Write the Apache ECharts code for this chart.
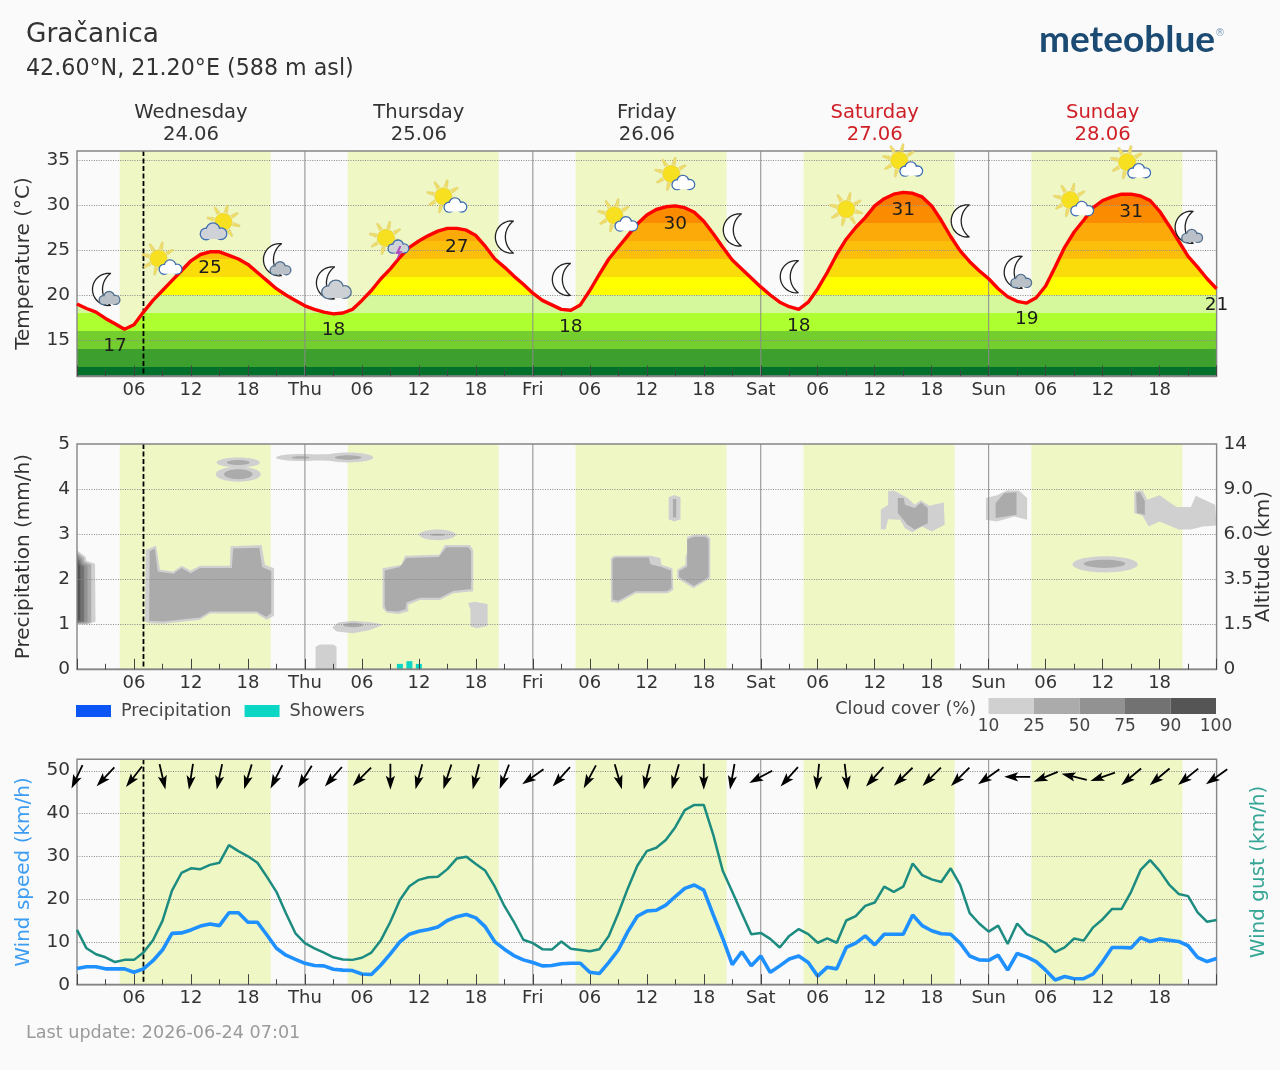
<!DOCTYPE html>
<html>
<head>
<meta charset="utf-8">
<title>Gračanica forecast</title>
<script src="https://cdn.jsdelivr.net/npm/echarts@6/dist/echarts.min.js"></script>
<style>html,body{margin:0;padding:0;background:#fafafa}#chart{width:1280px;height:1070px}</style>
</head>
<body>
<div id="chart"></div>
<script>
// Hourly forecast values, index = hours since Wednesday 00:00
const temperature = [
  19.0,18.5,18.1,17.4,16.8,16.2,16.7,18.1,19.4,20.5,21.6,22.7,23.8,24.5,24.8,24.8,24.4,24.0,23.4,22.5,21.6,20.7,20.0,19.4,
  18.8,18.4,18.1,17.9,18.0,18.4,19.4,20.5,21.8,22.9,24.2,25.3,26.0,26.6,27.1,27.4,27.4,27.2,26.6,25.4,24.0,23.1,22.1,21.2,
  20.2,19.4,18.9,18.4,18.3,18.9,20.5,22.3,24.0,25.3,26.6,27.9,28.9,29.5,29.8,29.9,29.7,29.2,28.2,26.8,25.3,23.9,22.9,21.9,
  20.9,20.0,19.2,18.7,18.4,19.2,20.7,22.5,24.5,26.2,27.5,28.6,29.9,30.7,31.2,31.4,31.3,30.9,29.9,28.3,26.5,24.9,23.7,22.7,
  21.8,20.7,19.8,19.3,19.1,19.7,21.0,23.1,25.3,27.0,28.3,29.7,30.5,30.9,31.2,31.2,31.0,30.5,29.3,27.7,26.0,24.3,23.1,21.8,20.7
];
const windSpeed = [
  3.8,4.2,4.2,3.7,3.7,3.7,2.9,3.7,5.6,8.1,12.0,12.1,12.8,13.7,14.2,13.8,16.8,16.8,14.6,14.6,11.6,8.5,6.9,5.9,
  5.0,4.5,4.4,3.6,3.4,3.3,2.5,2.4,4.6,7.2,10.0,11.8,12.5,12.9,13.5,15.0,15.9,16.4,15.6,13.5,10.0,8.3,6.8,5.8,
  5.2,4.4,4.5,4.9,5.0,5.0,2.9,2.6,5.2,8.1,12.4,16.0,17.2,17.4,18.6,20.6,22.5,23.3,22.1,16.3,10.8,4.7,7.7,4.4,
  6.7,2.9,4.4,6.0,6.7,5.2,2.0,4.1,3.7,8.7,9.7,11.4,9.3,11.8,11.8,11.8,16.3,13.8,12.6,11.9,11.8,9.7,6.7,5.8,
  5.7,6.9,3.4,7.3,6.5,5.4,3.4,1.1,1.9,1.4,1.4,2.5,5.4,8.7,8.7,8.6,11.0,10.1,10.7,10.4,10.1,9.1,6.4,5.4,6.1
];
const windGust = [
  12.8,8.5,7.1,6.4,5.3,5.8,5.8,7.5,10.4,14.9,22.0,26.1,27.2,27.0,28.0,28.5,32.6,31.2,30.0,28.5,25.2,21.7,16.7,12.0,
  9.7,8.5,7.5,6.4,5.9,5.8,6.3,7.5,10.4,14.7,19.8,23.0,24.5,25.1,25.2,27.0,29.5,29.9,28.2,26.6,22.9,18.4,14.7,10.5,
  9.7,8.3,8.2,10.1,8.4,8.1,7.8,8.3,11.4,16.7,22.5,27.8,31.2,32.0,33.8,36.8,40.8,42.0,42.0,35.0,26.6,21.7,16.7,11.8,
  12.1,10.7,8.7,11.4,13.0,11.8,9.8,10.8,9.8,15.0,16.0,18.4,19.2,22.9,21.7,22.9,28.3,25.6,24.6,24.0,27.2,23.3,16.7,14.3,
  12.4,13.8,9.5,14.3,11.8,10.8,9.7,7.6,8.7,10.8,10.3,13.4,15.3,17.7,17.7,21.7,26.8,29.1,26.6,23.4,21.2,20.7,16.9,14.7,15.1
];
// Wind origin in degrees, one reading every third hour
const windDirection = [
  25,43,38,347,9,12,17,27,32,41,45,0,15,18,14,21,55,42,28,344,13,16,0,10,62,42,6,353,
  42,46,45,45,55,90,68,104,71,50,50,51,55
];
const showerHours = [34, 35, 36];
const showerValues = [0.12, 0.18, 0.12];
const precipitationValues = [];

const sunrise = [4.5, 28.5, 52.5, 76.5, 100.5];
const sunset = [20.4, 44.4, 68.4, 92.4, 116.4];
const midnights = [24, 48, 72, 96];
const nowHour = 7;

const dayCentres = [12, 36, 60, 84, 108];
const dayNames = ['Wednesday', 'Thursday', 'Friday', 'Saturday', 'Sunday'];
const dayDates = ['24.06', '25.06', '26.06', '27.06', '28.06'];
const weekendDays = ['Saturday', 'Sunday'];

const xTickLabels = ['', '06', '12', '18', 'Thu', '06', '12', '18', 'Fri', '06', '12', '18', 'Sat', '06', '12', '18', 'Sun', '06', '12', '18', ''];
const tempTicks = [15, 20, 25, 30, 35];
const precipTicks = [1, 2, 3, 4];
const windTicks = [0, 10, 20, 30, 40, 50];
const altitudeLabels = ['0', '1.5', '3.5', '6.0', '9.0', '14'];

// Colour bands under the temperature curve: lower bound, upper bound, colour
const tempBands = [
  [11, 12, '#00702b'], [12, 14, '#3da02e'], [14, 16, '#74cf2e'], [16, 18, '#adff2f'], [18, 20, '#d5f89c'],
  [20, 22, '#ffff00'], [22, 24, '#f9dc0a'], [24, 26, '#fbbe0a'], [26, 28, '#fca90a'], [28, 30, '#fb8b00'], [30, 36, '#fa7d00']
];
// Labelled hours on the curve; the text is the rounded curve value
const tempLabelHours = [4, 14, 27, 40, 52, 63, 76, 87, 100, 111, 120];
// Weather pictogram for hours 3, 9, 15, ... 117
const pictograms = [
  'moonCloud', 'sunCloud', 'sunGreyCloud', 'moonCloud', 'moonBigCloud', 'sunStorm', 'sunCloud', 'moon', 'moon', 'sunCloud',
  'sunCloud', 'moon', 'moon', 'sun', 'sunCloud', 'moon', 'moonCloud', 'sunCloud', 'sunCloud', 'moonCloud'
];

const coverLabels = ['10', '25', '50', '75', '90', '100'];
const coverColors = ['#d0d0d0', '#ababab', '#929292', '#727272', '#555555'];

// Cloud regions in [hour, level] pairs; level 1..5 maps to altitude labels on the right axis
const cloudAreas = [
  [0, [[0,2.64],[0.9,2.5],[1,2.41],[1.9,2.34],[1.95,1.06],[1.2,1],[0,1]]],
  [1, [[0,2.6],[0.7,2.47],[0.8,2.38],[1.5,2.32],[1.5,1.05],[1,1.01],[0,1.01]]],
  [2, [[0,2.56],[0.5,2.44],[0.6,2.36],[1.1,2.3],[1.1,1.05],[0,1.02]]],
  [3, [[0,2.5],[0.35,2.4],[0.4,2.33],[0.75,2.28],[0.75,1.06],[0,1.04]]],
  [4, [[0,2.42],[0.35,2.28],[0.35,1.1],[0,1.08]]],
  [0, [[7.16,1.06],[7.23,2.65],[8.32,2.75],[8.74,2.21],[10.14,2.17],[11.02,2.3],[11.96,2.19],[12.95,2.3],[16.1,2.3],[16.18,2.73],[19.44,2.76],[19.79,2.32],[20.74,2.24],[20.74,1.19],[19.96,1.1],[18.91,1.24],[14,1.24],[12.95,1.1],[9.09,1.01],[7.68,1.02]]],
  [1, [[7.6,1.08],[7.65,2.62],[8.2,2.68],[8.5,2.17],[10.15,2.12],[11.02,2.25],[11.96,2.13],[12.95,2.25],[16.3,2.25],[16.45,2.68],[19.2,2.7],[19.5,2.27],[20.45,2.18],[20.45,1.25],[19.96,1.16],[18.91,1.28],[14,1.28],[12.95,1.15],[9.09,1.06],[7.9,1.07]]],
  [0, [[25.12,0],[25.12,0.5],[25.58,0.55],[26.98,0.55],[27.33,0.5],[27.33,0]]],
  [0, [[26.88,0.93],[27.5,1.04],[29.09,1.08],[31.19,1.04],[32.25,0.99],[30.84,0.87],[29.09,0.8],[27.33,0.84]]],
  [0, [[32.18,2.24],[34.18,2.32],[34.53,2.52],[38.14,2.54],[38.74,2.76],[41.37,2.76],[41.72,2.65],[41.72,1.73],[39.61,1.69],[38.21,1.54],[36.11,1.54],[34.88,1.43],[34.88,1.28],[33.82,1.23],[32.6,1.26],[32.18,1.36]]],
  [1, [[32.4,2.19],[34,2.27],[34.7,2.47],[38.1,2.49],[38.9,2.71],[41.2,2.71],[41.5,2.62],[41.5,1.78],[39.6,1.74],[38.2,1.59],[36.1,1.59],[34.7,1.48],[34.6,1.33],[33.8,1.28],[32.6,1.3],[32.4,1.4]]],
  [0, [[41.19,1.47],[41.9,1.5],[43.23,1.45],[43.23,0.96],[42.1,0.91],[41.44,0.95],[41.44,1.32]]],
  [0, [[56.22,2.47],[56.58,2.52],[60.41,2.52],[61.43,2.47],[61.53,2.32],[62.7,2.24],[62.8,1.76],[62.19,1.69],[58.87,1.69],[56.99,1.47],[56.22,1.5]]],
  [1, [[56.4,2.44],[56.7,2.48],[60.2,2.48],[60.4,2.33],[61.5,2.27],[62.55,2.19],[62.6,1.8],[62.1,1.73],[58.8,1.73],[57,1.52],[56.4,1.55]]],
  [0, [[64.23,2.93],[64.9,2.985],[66.27,2.985],[66.68,2.91],[66.68,2.02],[64.9,1.8],[63.21,2.02],[63.21,2.21],[64.08,2.32],[64.08,2.5],[64.23,2.58]]],
  [1, [[64.4,2.9],[65,2.94],[66.2,2.94],[66.5,2.88],[66.5,2.05],[64.95,1.85],[63.4,2.05],[63.4,2.18],[64.25,2.28],[64.25,2.88]]],
  [0, [[62.3,3.82],[62.9,3.87],[63.55,3.82],[63.55,3.33],[62.9,3.28],[62.3,3.33]]],
  [1, [[62.75,3.78],[63.1,3.78],[63.1,3.37],[62.75,3.37]]],
  [0, [[84.64,3.54],[85.41,3.65],[85.41,3.95],[86.02,3.97],[87.45,3.8],[88.21,3.65],[88.87,3.75],[89.74,3.63],[91.27,3.7],[91.37,3.21],[90,3.06],[88.98,3.17],[87.96,3.04],[87.19,3.13],[86.68,3.32],[85.41,3.33],[85.15,3.1],[84.64,3.11]]],
  [1, [[86.43,3.8],[87.04,3.8],[87.19,3.65],[88.21,3.58],[88.87,3.7],[89.59,3.58],[89.59,3.24],[88.21,3.1],[87.45,3.21],[86.43,3.47]]],
  [0, [[95.71,3.8],[96.88,3.86],[97.9,3.97],[99.18,3.97],[100.05,3.8],[100.05,3.32],[98.67,3.39],[96.88,3.28],[95.71,3.32]]],
  [1, [[96.73,3.69],[97.65,3.91],[98.93,3.93],[98.93,3.43],[96.73,3.36]]],
  [0, [[111.33,3.95],[112.2,3.97],[112.7,3.76],[113.98,3.86],[115.76,3.6],[117.3,3.6],[117.8,3.85],[119.84,3.65],[120,3.19],[118.57,3.17],[117.3,3.1],[116.02,3.1],[113.98,3.28],[112.85,3.17],[112.2,3.41],[111.33,3.47]]],
  [1, [[111.53,3.91],[111.94,3.93],[112.45,3.73],[112.45,3.43],[111.6,3.47]]]
];
// Thin cloud layers: colour step, hour, level, half-length in hours, half-depth in levels
const cloudLenses = [
  [0, 16.98, 4.59, 2.28, 0.11], [1, 16.98, 4.59, 1.2, 0.055],
  [0, 16.98, 4.33, 2.37, 0.165], [1, 16.98, 4.33, 1.5, 0.11],
  [0, 23.65, 4.7, 2.7, 0.08], [0, 26.1, 4.7, 1.8, 0.07], [0, 28.56, 4.7, 2.63, 0.11],
  [1, 23.55, 4.7, 0.96, 0.03], [1, 28.56, 4.7, 1.4, 0.05],
  [1, 29.09, 0.985, 1.05, 0.05],
  [0, 37.96, 2.985, 1.93, 0.12], [1, 37.96, 2.985, 0.8, 0.025],
  [0, 108.26, 2.33, 3.44, 0.18], [1, 108.2, 2.34, 2.2, 0.09]
];

// ---- layout of the three panels ----
const FONT = '"DejaVu Sans"';
const INK = '#333333';
const gridSpec = [
  { left: 77, top: 151, width: 1139.6, height: 225 },
  { left: 77, top: 444, width: 1139.6, height: 225.3 },
  { left: 77, top: 759.3, width: 1139.6, height: 225.4 }
];
const yOf = [0, 1, 3]; // left y axis used by each panel

const chart = echarts.init(document.getElementById('chart'), null, { renderer: 'canvas' });

function panelSeries(panel, z, renderItem) {
  return {
    type: 'custom', xAxisIndex: panel, yAxisIndex: yOf[panel], z, silent: true, clip: false,
    data: [[0, 0]], renderItem
  };
}
function daylight(panel) {
  return panelSeries(panel, 1, (p, api) => {
    const c = p.coordSys;
    return { type: 'group', children: sunrise.map((h, i) => {
      const x0 = api.coord([h, 0])[0], x1 = api.coord([sunset[i], 0])[0];
      return { type: 'rect', shape: { x: x0, y: c.y, width: x1 - x0, height: c.height }, style: { fill: '#eff7c5' } };
    }) };
  });
}
function overlays(panel, ticks) {
  return panelSeries(panel, 5, (p, api) => {
    const c = p.coordSys;
    const kids = [];
    ticks.forEach(v => {
      const y = Math.round(api.coord([0, v])[1]) + 0.5;
      kids.push({ type: 'line', shape: { x1: c.x, y1: y, x2: c.x + c.width, y2: y }, style: { stroke: '#8a8a8a', lineWidth: 1, lineDash: [1, 1.4] } });
    });
    midnights.forEach(h => {
      const x = api.coord([h, 0])[0];
      kids.push({ type: 'line', shape: { x1: x, y1: c.y, x2: x, y2: c.y + c.height }, style: { stroke: '#8a8a8a', lineWidth: 1 } });
    });
    const nx = api.coord([nowHour, 0])[0];
    kids.push({ type: 'line', shape: { x1: nx, y1: c.y, x2: nx, y2: c.y + c.height }, style: { stroke: '#000', lineWidth: 1.8, lineDash: [5, 2.5] } });
    kids.push({ type: 'rect', shape: { x: c.x, y: c.y, width: c.width, height: c.height }, style: { fill: 'none', stroke: '#858585', lineWidth: 1.4 } });
    return { type: 'group', children: kids };
  });
}

// ---- pictograms ----
function sunParts(x, y) {
  const kids = [];
  for (let i = 0; i < 8; i++) {
    const a = (i * 45 + 14) * Math.PI / 180;
    const sx = -Math.sin(a), sy = Math.cos(a), cx = Math.cos(a), cy = Math.sin(a);
    kids.push({ type: 'polygon', shape: { points: [
      [x + 9.8 * cx + 1.8 * sx, y + 9.8 * cy + 1.8 * sy], [x + 17 * cx + 0.8 * sx, y + 17 * cy + 0.8 * sy],
      [x + 17 * cx - 0.8 * sx, y + 17 * cy - 0.8 * sy], [x + 9.8 * cx - 1.8 * sx, y + 9.8 * cy - 1.8 * sy]
    ] }, style: { fill: '#efdd66', stroke: '#dccb6e', lineWidth: 0.5 } });
  }
  kids.push({ type: 'circle', shape: { cx: x, cy: y, r: 8.6 }, style: { fill: '#f6e01f', stroke: '#ecd64e', lineWidth: 1 } });
  return kids;
}
function arcPoints(cx, cy, r, a0, a1, n) {
  const pts = [];
  for (let i = 0; i <= n; i++) {
    const a = (a0 + (a1 - a0) * i / n) * Math.PI / 180;
    pts.push([cx + r * Math.cos(a), cy + r * Math.sin(a)]);
  }
  return pts;
}
// Crescent centred on (x, y), tips pointing right
function moonPart(x, y) {
  const tx = x + 9;
  const pts = arcPoints(tx - 1.9, y, 16.1, 83.2, 276.8, 24).concat(arcPoints(tx + 12, y, 20, 233.1, 126.9, 14));
  return [{ type: 'polygon', shape: { points: pts }, style: { fill: '#ffffff', stroke: '#222', lineWidth: 1.3, lineJoin: 'round' } }];
}
function cloudParts(x, y, w, fill, stroke) {
  const k = w / 23;
  const lobes = [[-6.3, 1.8, 4.8], [-0.4, -1.8, 5.6], [6.4, 1.6, 4.8]];
  const kids = [];
  lobes.forEach(l => kids.push({ type: 'circle', shape: { cx: x + l[0] * k, cy: y + l[1] * k, r: l[2] * k }, style: { fill, stroke, lineWidth: 1.7 } }));
  lobes.forEach(l => kids.push({ type: 'circle', shape: { cx: x + l[0] * k, cy: y + l[1] * k, r: l[2] * k - 0.5 }, style: { fill } }));
  kids.push({ type: 'rect', shape: { x: x - 6 * k, y: y, width: 12 * k, height: 6.2 * k }, style: { fill } });
  return kids;
}
function pictogramParts(kind, x, y) {
  const blue = '#3f6fb5', slate = '#50708f';
  switch (kind) {
    case 'sun': return sunParts(x, y);
    case 'moon': return moonPart(x, y);
    case 'sunCloud': return sunParts(x - 4, y - 2).concat(cloudParts(x + 8, y + 7, 23, '#ffffff', blue));
    case 'sunGreyCloud': return sunParts(x + 4, y).concat(cloudParts(x - 6, y + 10, 27, '#cfd2d6', blue));
    case 'sunStorm': return sunParts(x - 4.5, y - 1).concat(cloudParts(x + 8, y + 8, 21, '#cfd2d6', blue),
      [{ type: 'polygon', shape: { points: [[x + 9, y + 7], [x + 5, y + 15], [x + 8, y + 15], [x + 5, y + 23], [x + 12, y + 12], [x + 9, y + 12], [x + 11, y + 7]] }, style: { fill: '#b24fbe' } }]);
    case 'moonCloud': return moonPart(x - 4, y + 1).concat(cloudParts(x + 4, y + 10, 21, '#b9c0c8', slate));
    case 'moonBigCloud': return moonPart(x - 8, y - 1).concat(cloudParts(x + 3, y + 6, 30, '#cdd0d4', slate));
  }
  return [];
}
function tempLabelSeries() {
  return panelSeries(0, 8, (p, api) => ({
    type: 'group',
    children: tempLabelHours.map(h => {
      const next = temperature[h + 1] === undefined ? temperature[h] : temperature[h + 1];
      const pos = api.coord([h, Math.min(temperature[h], next)]);
      return { type: 'text', style: { x: pos[0], y: pos[1] + 16.5, text: String(Math.round(temperature[h])), font: '18.5px ' + FONT, fill: '#1c1c1c', align: 'center', verticalAlign: 'middle' } };
    })
  }));
}
function pictogramSeries() {
  return panelSeries(0, 7, (p, api) => {
    const kids = [];
    pictograms.forEach((kind, i) => {
      const h = 3 + i * 6;
      const pos = api.coord([h, temperature[h]]);
      pictogramParts(kind, pos[0], pos[1] - 30).forEach(k => kids.push(k));
    });
    return { type: 'group', children: kids };
  });
}
function dayHeaderSeries() {
  return panelSeries(0, 8, (p, api) => ({
    type: 'group',
    children: dayCentres.flatMap((h, i) => {
      const x = api.coord([h, 20])[0];
      const fill = weekendDays.includes(dayNames[i]) ? '#cf2027' : INK;
      const base = { font: '19.6px ' + FONT, fill, align: 'center', verticalAlign: 'middle', x };
      return [
        { type: 'text', style: Object.assign({ y: p.coordSys.y - 38, text: dayNames[i] }, base) },
        { type: 'text', style: Object.assign({ y: p.coordSys.y - 16, text: dayDates[i] }, base) }
      ];
    })
  }));
}

// ---- clouds ----
function cloudSeries() {
  return panelSeries(1, 3, (p, api) => {
    const kids = cloudAreas.map(a => ({
      type: 'polygon', shape: { points: a[1].map(pt => api.coord(pt)) }, style: { fill: coverColors[a[0]] }
    }));
    cloudLenses.forEach(l => {
      const c = api.coord([l[1], l[2]]);
      const s = api.size([l[3], l[4]]);
      kids.push({ type: 'ellipse', shape: { cx: c[0], cy: c[1], rx: s[0], ry: s[1] }, style: { fill: coverColors[l[0]] } });
    });
    return { type: 'group', children: kids };
  });
}

// ---- wind arrows ----
function arrowSeries() {
  return panelSeries(2, 7, (p, api) => {
    const cy = p.coordSys.y + 17.5;
    return { type: 'group', children: windDirection.map((deg, i) => {
      const cx = api.coord([i * 3, 0])[0];
      const a = deg * Math.PI / 180;
      const ux = -Math.sin(a), uy = Math.cos(a), vx = -uy, vy = ux;
      const outline = [[-13, -0.9], [1.5, -0.9], [-1, -4.6], [13, 0], [-1, 4.6], [1.5, 0.9], [-13, 0.9]];
      return { type: 'polygon', shape: { points: outline.map(o => [cx + ux * o[0] + vx * o[1], cy + uy * o[0] + vy * o[1]]) }, style: { fill: '#000' } };
    }) };
  });
}

const withHours = arr => arr.map((v, h) => [h, v]);

// Stepped fill under the temperature curve, expressed in canvas pixels of the first panel
function tempGradient() {
  const g = gridSpec[0], lo = 11, hi = 36;
  const stops = [];
  tempBands.slice().reverse().forEach(b => {
    stops.push({ offset: (hi - b[1]) / (hi - lo), color: b[2] });
    stops.push({ offset: (hi - b[0]) / (hi - lo), color: b[2] });
  });
  return { type: 'linear', global: true, x: 0, y: g.top, x2: 0, y2: g.top + g.height, colorStops: stops };
}

function xAxisFor(i) {
  return {
    type: 'value', gridIndex: i, min: 0, max: 120, interval: 6, z: 10,
    splitLine: { show: false },
    axisLine: { show: true, onZero: false, lineStyle: { color: '#858585', width: 1.4 } },
    axisTick: { show: true, inside: true, length: 10.5, lineStyle: { color: '#444', width: 1 } },
    minorTick: { show: true, splitNumber: 2, length: 5.5, lineStyle: { color: '#444', width: 1 } },
    minorSplitLine: { show: false },
    axisLabel: { margin: 5, fontFamily: FONT, fontSize: 18, color: INK, formatter: v => xTickLabels[v / 6] }
  };
}
function leftAxis(i, name, color, extra) {
  return Object.assign({
    type: 'value', gridIndex: i, position: 'left', name, nameLocation: 'middle', nameGap: 43,
    nameTextStyle: { fontFamily: FONT, fontSize: 20, color },
    splitLine: { show: false }, axisTick: { show: false }, axisLine: { show: false }
  }, extra);
}

const labelBase = { margin: 7, fontFamily: FONT, fontSize: 18.5, color: INK, padding: [2, 0, 0, 0] };

const option = {
  backgroundColor: '#fafafa',
  animation: false,
  title: [
    { text: 'Gračanica', left: 21, top: 17, textStyle: { fontFamily: FONT, fontSize: 26.4, fontWeight: 'normal', color: '#333' } },
    { text: '42.60°N, 21.20°E (588 m asl)', left: 21, top: 53, textStyle: { fontFamily: FONT, fontSize: 22.2, fontWeight: 'normal', color: '#333' } },
    { text: 'meteoblue', left: 1034, top: 17, textStyle: { fontFamily: 'Lato', fontSize: 37, fontWeight: 700, color: '#1b4a72' } },
    { text: '®', left: 1210, top: 23, textStyle: { fontFamily: FONT, fontSize: 10, fontWeight: 'normal', color: '#7a9ab5' } },
    { text: 'Last update: 2026-06-24 07:01', left: 21, top: 1019, textStyle: { fontFamily: FONT, fontSize: 17.6, fontWeight: 'normal', color: '#9a9a9a' } }
  ],
  legend: {
    left: 71, top: 697, icon: 'rect', itemWidth: 35, itemHeight: 12, itemGap: 13, selectedMode: false,
    data: ['Precipitation', 'Showers'],
    textStyle: { fontFamily: FONT, fontSize: 17.7, color: '#444', padding: [0, 0, 0, 5] }
  },
  grid: gridSpec.map(g => Object.assign({ containLabel: false, show: false, outerBoundsMode: 'none' }, g)),
  xAxis: [xAxisFor(0), xAxisFor(1), xAxisFor(2)],
  yAxis: [
    leftAxis(0, 'Temperature (°C)', INK, { min: 11, max: 36, axisLabel: Object.assign({ customValues: tempTicks }, labelBase) }),
    leftAxis(1, 'Precipitation (mm/h)', INK, { min: 0, max: 5, interval: 1, axisLabel: labelBase }),
    { type: 'value', gridIndex: 1, position: 'right', min: 0, max: 5, interval: 1, name: 'Altitude (km)', nameLocation: 'middle', nameGap: 37, nameRotate: 90, nameMoveOverlap: false,
      nameTextStyle: { fontFamily: FONT, fontSize: 20, color: INK },
      splitLine: { show: false }, axisTick: { show: false }, axisLine: { show: false },
      axisLabel: Object.assign({}, labelBase, { formatter: v => altitudeLabels[v] }) },
    leftAxis(2, 'Wind speed (km/h)', '#3d9df2', { min: 0, max: 52.66, axisLabel: Object.assign({ customValues: windTicks }, labelBase) }),
    { type: 'value', gridIndex: 2, position: 'right', min: 0, max: 52.66, name: 'Wind gust (km/h)', nameLocation: 'middle', nameGap: 32, nameRotate: 90,
      nameTextStyle: { fontFamily: FONT, fontSize: 20, color: '#35a595' },
      splitLine: { show: false }, axisTick: { show: false }, axisLine: { show: false }, axisLabel: { show: false } }
  ],
  series: [
    daylight(0), daylight(1), daylight(2),
    { name: 'Temperature fill', type: 'line', xAxisIndex: 0, yAxisIndex: 0, z: 3, silent: true, showSymbol: false,
      data: withHours(temperature), lineStyle: { width: 0 }, areaStyle: { origin: 'start', color: tempGradient(), opacity: 1 } },
    overlays(0, tempTicks), overlays(1, precipTicks), overlays(2, windTicks.slice(1)),
    { name: 'Temperature', type: 'line', xAxisIndex: 0, yAxisIndex: 0, z: 6, silent: true, showSymbol: false,
      data: withHours(temperature), lineStyle: { color: '#ff0000', width: 3.4 } },
    pictogramSeries(), tempLabelSeries(), dayHeaderSeries(),
    cloudSeries(),
    { name: 'Precipitation', type: 'bar', xAxisIndex: 1, yAxisIndex: 1, z: 4, stack: 'rain', barWidth: 6,
      data: precipitationValues, itemStyle: { color: '#0b55f5' } },
    { name: 'Showers', type: 'bar', xAxisIndex: 1, yAxisIndex: 1, z: 4, stack: 'rain', barWidth: 6,
      data: showerHours.map((h, i) => [h, showerValues[i]]), itemStyle: { color: '#0bd6c4' } },
    { name: 'Wind gust', type: 'line', xAxisIndex: 2, yAxisIndex: 3, z: 6, silent: true, showSymbol: false,
      data: withHours(windGust), lineStyle: { color: '#1d8c80', width: 2.5 } },
    { name: 'Wind speed', type: 'line', xAxisIndex: 2, yAxisIndex: 3, z: 6, silent: true, showSymbol: false,
      data: withHours(windSpeed), lineStyle: { color: '#1e90ff', width: 3.6 } },
    arrowSeries()
  ],
  graphic: (function () {
    // Cloud cover colour key
    const left = 988.5, stepW = 45.5, top = 698, h = 16;
    const els = [{ type: 'text', style: { x: 976, y: top + 11, text: 'Cloud cover (%)', font: '17.6px ' + FONT, fill: '#444', align: 'right', verticalAlign: 'middle' } }];
    coverColors.forEach((c, i) => els.push({ type: 'rect', shape: { x: left + i * stepW, y: top, width: stepW, height: h }, style: { fill: c } }));
    coverLabels.forEach((t, i) => els.push({ type: 'text', style: { x: left + i * stepW, y: top + 29, text: t, font: '17px ' + FONT, fill: '#444', align: 'center', verticalAlign: 'middle' } }));
    return els;
  })()
};
chart.setOption(option);
</script>
</body>
</html>
